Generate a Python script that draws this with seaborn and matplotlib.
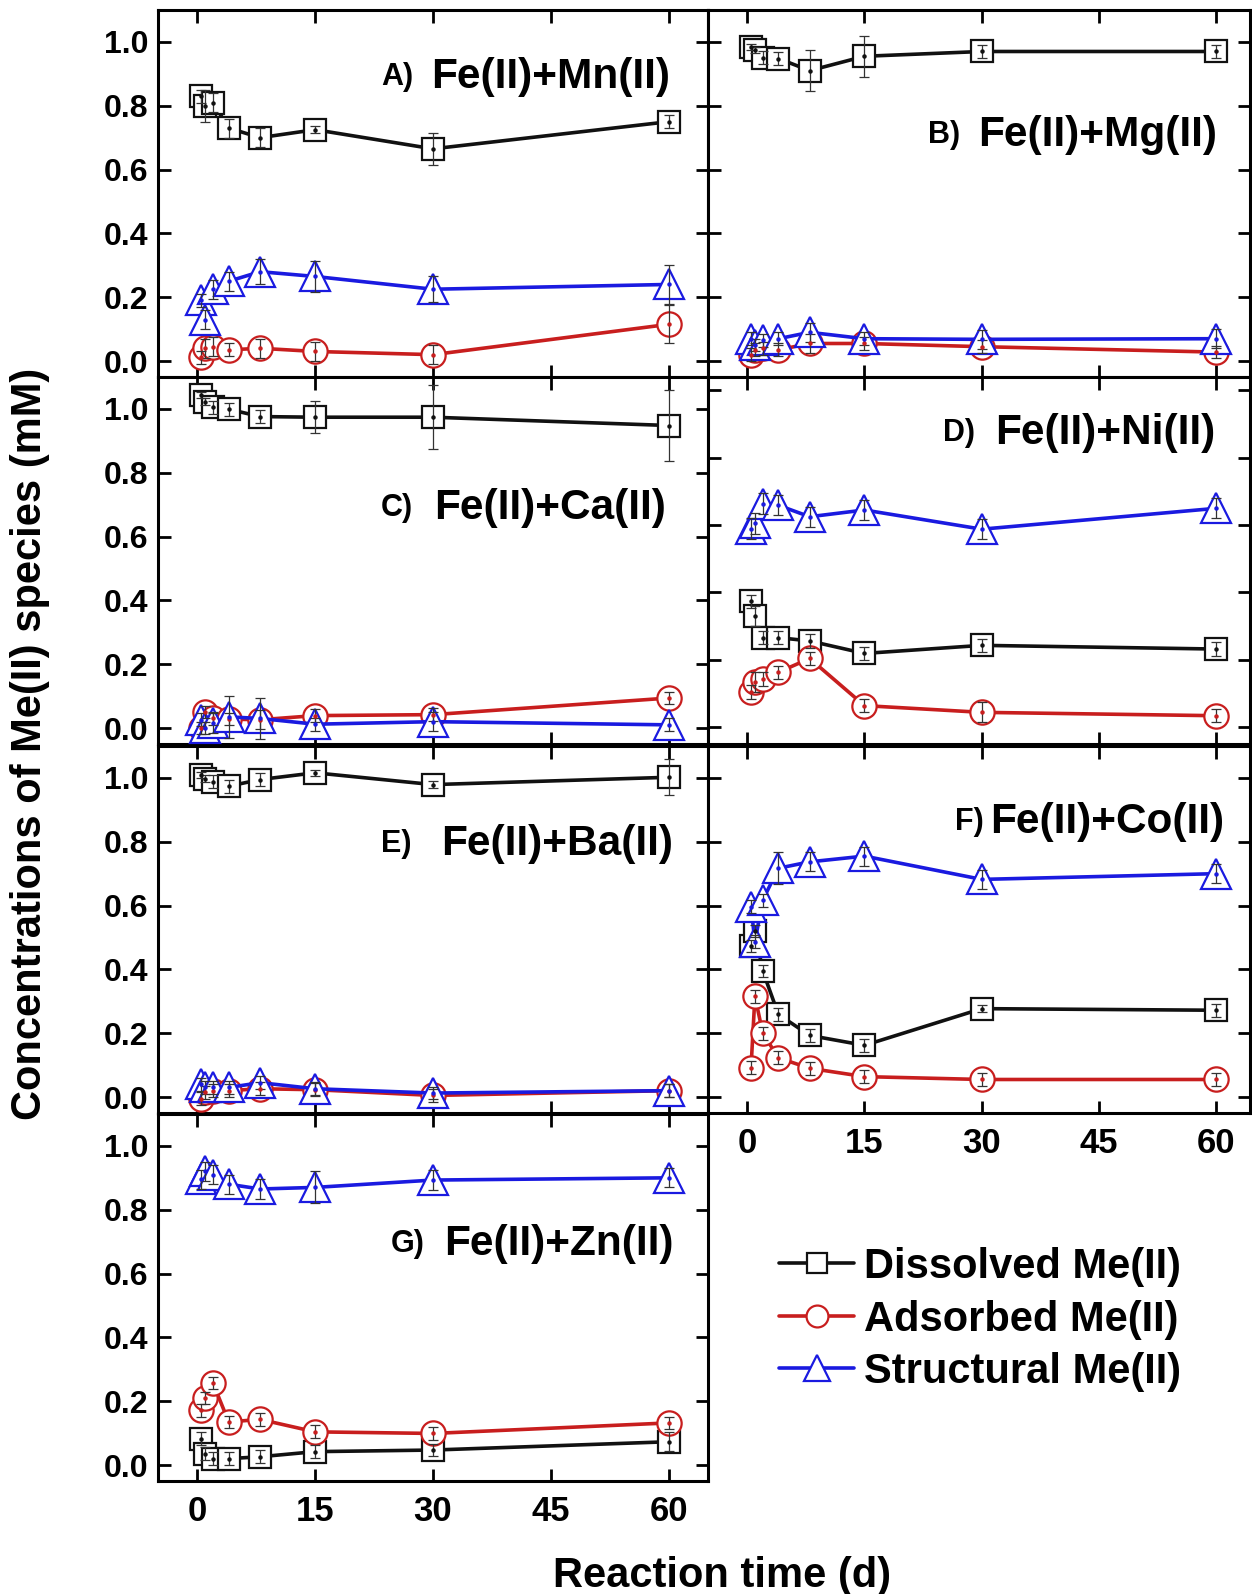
import matplotlib
matplotlib.use("Agg")
import matplotlib.pyplot as plt
from matplotlib.lines import Line2D
import seaborn as sns
import numpy as np

sns.set_theme(style="ticks")
plt.rcParams['font.family'] = ['Liberation Sans', 'DejaVu Sans']
plt.rcParams['font.weight'] = 'bold'
for key in ["text.color", "axes.labelcolor", "xtick.color", "ytick.color", "axes.edgecolor"]:
    plt.rcParams[key] = "black"

# ---------------- data ----------------
time_d = [0.5, 1, 2, 4, 8, 15, 30, 60]
series_names = ["Dissolved Me(II)", "Adsorbed Me(II)", "Structural Me(II)"]
panel_ids = ["A", "B", "C", "D", "E", "F", "G"]
panel_titles = ["Fe(II)+Mn(II)", "Fe(II)+Mg(II)", "Fe(II)+Ca(II)", "Fe(II)+Ni(II)",
                "Fe(II)+Ba(II)", "Fe(II)+Co(II)", "Fe(II)+Zn(II)"]

A_dis = [0.83, 0.80, 0.81, 0.73, 0.70, 0.725, 0.665, 0.75]
A_ads = [0.012, 0.04, 0.045, 0.035, 0.04, 0.03, 0.02, 0.115]
A_str = [0.19, 0.13, 0.225, 0.25, 0.28, 0.265, 0.225, 0.24]
A_dis_err = [0.02, 0.05, 0.03, 0.03, 0.03, 0.01, 0.05, 0.02]
A_ads_err = [0.02, 0.03, 0.03, 0.02, 0.03, 0.03, 0.03, 0.06]
A_str_err = [0.02, 0.03, 0.03, 0.03, 0.04, 0.05, 0.04, 0.06]

B_dis = [0.985, 0.975, 0.95, 0.948, 0.91, 0.955, 0.97, 0.97]
B_ads = [0.02, 0.035, 0.04, 0.035, 0.055, 0.055, 0.045, 0.028]
B_str = [0.07, 0.05, 0.065, 0.07, 0.09, 0.07, 0.068, 0.07]
B_dis_err = [0.01, 0.01, 0.02, 0.02, 0.065, 0.065, 0.02, 0.02]
B_ads_err = [0.02, 0.02, 0.02, 0.02, 0.03, 0.02, 0.02, 0.02]
B_str_err = [0.02, 0.02, 0.02, 0.02, 0.03, 0.02, 0.03, 0.03]

C_dis = [1.044, 1.023, 1.005, 0.999, 0.976, 0.974, 0.974, 0.948]
C_ads = [0.0, 0.05, 0.03, 0.028, 0.026, 0.039, 0.042, 0.094]
C_str = [0.026, 0.0, 0.016, 0.035, 0.03, 0.012, 0.02, 0.01]
C_dis_err = [0.01, 0.01, 0.02, 0.02, 0.02, 0.05, 0.10, 0.11]
C_ads_err = [0.02, 0.02, 0.02, 0.02, 0.03, 0.02, 0.02, 0.02]
C_str_err = [0.02, 0.02, 0.03, 0.065, 0.065, 0.02, 0.03, 0.02]

D_dis = [0.374, 0.33, 0.266, 0.266, 0.256, 0.219, 0.243, 0.232]
D_ads = [0.105, 0.133, 0.143, 0.163, 0.204, 0.064, 0.044, 0.034]
D_str = [0.59, 0.605, 0.664, 0.659, 0.625, 0.645, 0.588, 0.65]
D_dis_err = [0.02, 0.03, 0.02, 0.02, 0.02, 0.02, 0.02, 0.02]
D_ads_err = [0.02, 0.03, 0.02, 0.02, 0.02, 0.02, 0.03, 0.02]
D_str_err = [0.03, 0.03, 0.03, 0.03, 0.03, 0.03, 0.03, 0.03]

E_dis = [1.01, 0.998, 0.988, 0.974, 0.995, 1.016, 0.979, 1.002]
E_ads = [-0.005, 0.015, 0.02, 0.02, 0.026, 0.023, 0.005, 0.02]
E_str = [0.04, 0.03, 0.03, 0.03, 0.045, 0.026, 0.0125, 0.02]
E_dis_err = [0.01, 0.01, 0.02, 0.02, 0.02, 0.01, 0.01, 0.056]
E_ads_err = [0.02, 0.02, 0.02, 0.02, 0.02, 0.02, 0.02, 0.02]
E_str_err = [0.02, 0.02, 0.02, 0.02, 0.02, 0.02, 0.02, 0.02]

F_dis = [0.473, 0.52, 0.395, 0.259, 0.193, 0.162, 0.277, 0.272]
F_ads = [0.092, 0.316, 0.2, 0.123, 0.09, 0.064, 0.055, 0.055]
F_str = [0.596, 0.487, 0.617, 0.717, 0.737, 0.755, 0.682, 0.70]
F_dis_err = [0.02, 0.02, 0.02, 0.02, 0.02, 0.02, 0.01, 0.02]
F_ads_err = [0.02, 0.02, 0.02, 0.02, 0.02, 0.02, 0.02, 0.02]
F_str_err = [0.02, 0.02, 0.02, 0.05, 0.03, 0.03, 0.03, 0.03]

G_dis = [0.083, 0.036, 0.02, 0.02, 0.026, 0.042, 0.047, 0.073]
G_ads = [0.172, 0.21, 0.257, 0.135, 0.143, 0.104, 0.099, 0.132]
G_str = [0.896, 0.92, 0.91, 0.88, 0.865, 0.87, 0.893, 0.9]
G_dis_err = [0.02, 0.02, 0.02, 0.02, 0.02, 0.02, 0.02, 0.03]
G_ads_err = [0.02, 0.02, 0.02, 0.02, 0.02, 0.02, 0.02, 0.02]
G_str_err = [0.03, 0.03, 0.03, 0.03, 0.03, 0.05, 0.03, 0.03]

panel_data = {
    "A": ([A_dis, A_ads, A_str], [A_dis_err, A_ads_err, A_str_err]),
    "B": ([B_dis, B_ads, B_str], [B_dis_err, B_ads_err, B_str_err]),
    "C": ([C_dis, C_ads, C_str], [C_dis_err, C_ads_err, C_str_err]),
    "D": ([D_dis, D_ads, D_str], [D_dis_err, D_ads_err, D_str_err]),
    "E": ([E_dis, E_ads, E_str], [E_dis_err, E_ads_err, E_str_err]),
    "F": ([F_dis, F_ads, F_str], [F_dis_err, F_ads_err, F_str_err]),
    "G": ([G_dis, G_ads, G_str], [G_dis_err, G_ads_err, G_str_err]),
}

x_ticks = [0, 15, 30, 45, 60]
y_ticks = [0.0, 0.2, 0.4, 0.6, 0.8, 1.0]

# ---------------- styles ----------------
colors = ["#111111", "#c81e1e", "#1a1ae0"]
markers = ["s", "o", "^"]
msizes = [16, 17.5, 21]

W, H = 1252, 1594
fig = plt.figure(figsize=(W / 100, H / 100), dpi=100)

row_bottoms_px = [377, 744, 1113, 1481]
row_h = 367 / H
left_x0, left_w = 158 / W, 550 / W
right_x0, right_w = 708 / W, 542 / W

layout = {
    "A": (0, 0), "B": (1, 0), "C": (0, 1), "D": (1, 1),
    "E": (0, 2), "F": (1, 2), "G": (0, 3),
}
# label positions (axes fraction): id x, title x, y
label_pos = {
    "A": (0.405, 0.496, 0.817), "B": (0.406, 0.498, 0.659),
    "C": (0.405, 0.502, 0.642), "D": (0.434, 0.529, 0.847),
    "E": (0.405, 0.514, 0.734), "F": (0.456, 0.520, 0.793),
    "G": (0.424, 0.520, 0.645),
}

for pid, title in zip(panel_ids, panel_titles):
    col, row = layout[pid]
    x0, w = (left_x0, left_w) if col == 0 else (right_x0, right_w)
    y0 = 1 - row_bottoms_px[row] / H
    ax = fig.add_axes([x0, y0, w, row_h])
    vals, errs = panel_data[pid]
    for k in range(3):
        sns.lineplot(x=time_d, y=vals[k], ax=ax, color=colors[k], lw=2.6,
                     marker=markers[k], markersize=msizes[k],
                     markerfacecolor="white", markeredgecolor=colors[k],
                     markeredgewidth=1.6, zorder=2 + k, estimator=None,
                     sort=False)
    for k in range(3):
        ax.errorbar(time_d, vals[k], yerr=errs[k], fmt="none", ecolor="#333333",
                    elinewidth=0.9, capsize=3.5, capthick=0.9, zorder=6)
        ax.plot(time_d, vals[k], ls="none", marker="o", ms=2.2,
                color=colors[k], zorder=7)
    ax.set_xlim(-5, 65 if col == 0 else 64.3)
    ax.set_ylim(-0.05, 1.04 if pid == "D" else 1.1)
    ax.set_xticks(x_ticks)
    ax.set_yticks(y_ticks)
    ax.tick_params(direction="in", top=True, right=True, length=9, width=2,
                   colors="black", pad=7)
    ax.tick_params(axis="y", labelsize=23)
    ax.tick_params(axis="x", labelsize=25, pad=10)
    for sp in ax.spines.values():
        sp.set_linewidth(2.2)
        sp.set_color("black")
    if col == 0:
        ax.set_yticklabels([f"{v:.1f}" for v in y_ticks], fontweight="bold")
    else:
        ax.set_yticklabels([])
    if pid in ("F", "G"):
        ax.set_xticklabels([str(v) for v in x_ticks], fontweight="bold")
    else:
        ax.set_xticklabels([])
    ax.set_xlabel("")
    ax.set_ylabel("")
    lx, tx, ty = label_pos[pid]
    ax.text(lx, ty, pid + ")", transform=ax.transAxes, fontsize=22,
            fontweight="bold", ha="left", va="center", color="black")
    ax.text(tx, ty, title, transform=ax.transAxes, fontsize=30.5,
            fontweight="bold", ha="left", va="center", color="black")

fig.text(30.5 / W, 1 - 744 / H, "Concentrations of Me(II) species (mM)",
         rotation=90, ha="center", va="center", fontsize=30, fontweight="bold",
         color="black")
fig.text(722 / W, 1 - 1576 / H, "Reaction time (d)", ha="center", va="center",
         fontsize=30, fontweight="bold", color="black")

handles = [Line2D([0], [0], color=colors[k], lw=2.6, marker=markers[k],
                  markersize=msizes[k] * 0.9, markerfacecolor="white",
                  markeredgecolor=colors[k], markeredgewidth=1.6)
           for k in range(3)]
leg = fig.legend(handles, series_names, loc="upper left",
                 bbox_to_anchor=(779 / W, 1 - 1247 / H), frameon=False,
                 prop={"size": 30, "weight": "bold"}, handlelength=1.8,
                 handletextpad=0.25, labelspacing=0.3, borderpad=0,
                 borderaxespad=0)
for t in leg.get_texts():
    t.set_color("black")

fig.savefig("out.png", dpi=100)
